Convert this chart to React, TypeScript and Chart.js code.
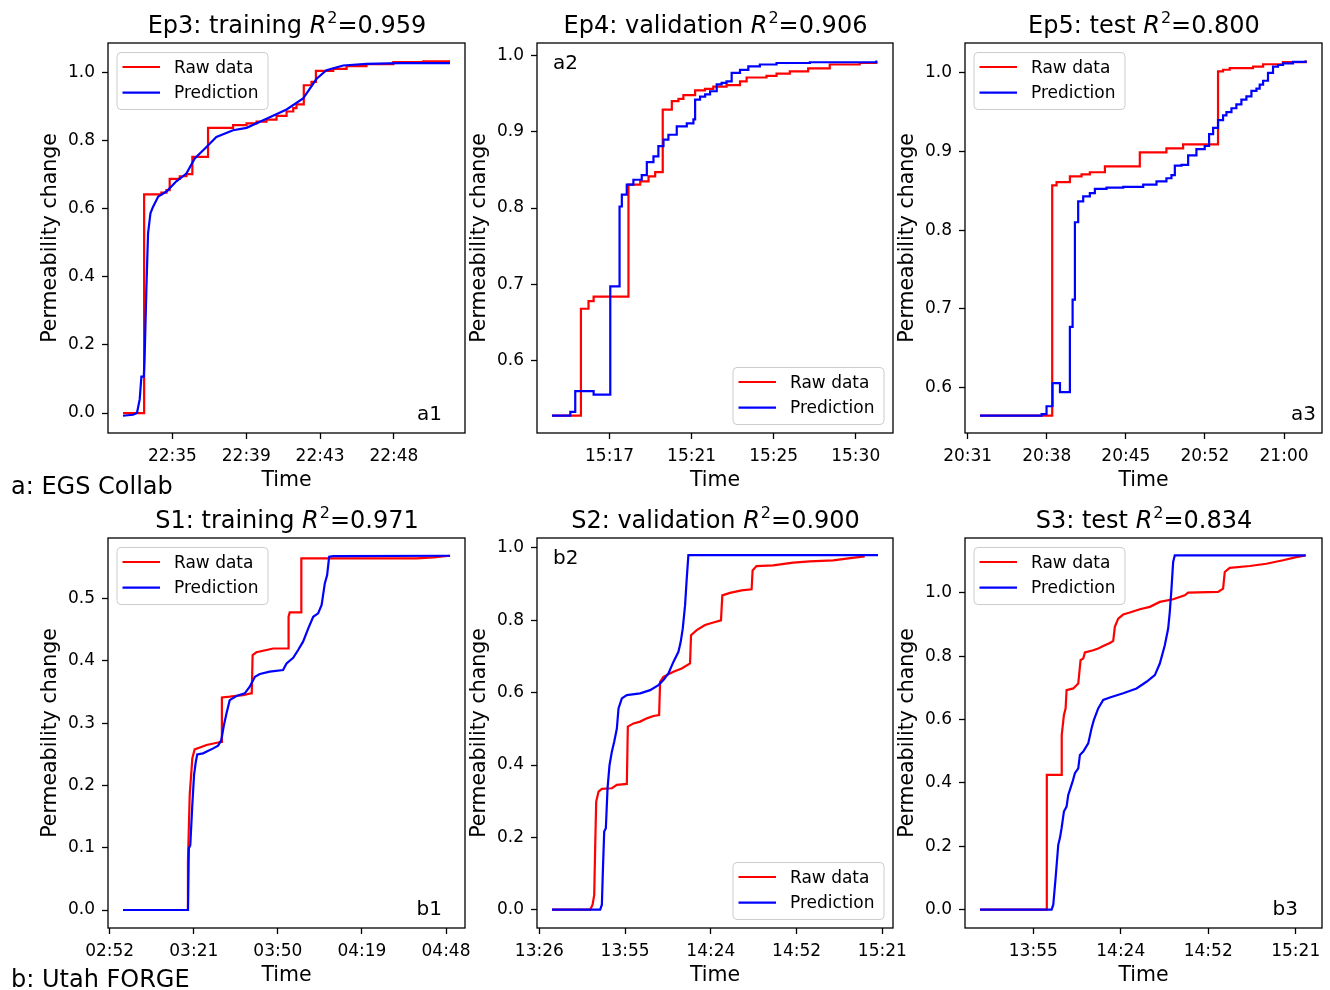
import React, { useEffect, useRef } from 'react';
import { Chart, registerables } from 'chart.js';

Chart.register(...registerables);

const FONT = '"DejaVu Sans", "Liberation Sans", sans-serif';
const W = 1330;
const H = 990;
const YW = 80; // y-axis box width
const XH = 60; // x-axis box height
const LW = 2.2; // line width

// ---------- Panel a1 (Ep3, minutes after 22:30) ----------
const a1RawX = [2.10, 3.34, 4.35, 4.65, 4.84, 5.43, 5.82, 6.17, 7.09, 8.56, 9.35, 9.94, 10.52, 11.11, 11.70, 12.09, 12.28, 12.71, 13.16, 13.42, 14.44, 15.22, 16.39, 17.96, 19.72, 21.29];
const a1RawY = [0, 0.642, 0.647, 0.654, 0.687, 0.695, 0.701, 0.752, 0.837, 0.845, 0.85, 0.855, 0.861, 0.872, 0.885, 0.895, 0.906, 0.962, 0.972, 1.004, 1.01, 1.018, 1.024, 1.03, 1.032, 1.032];
const a1PredX = [2.10, 2.69, 2.92, 3.08, 3.18, 3.32, 3.37, 3.47, 3.57, 3.71, 3.86, 4.16, 4.65, 5.23, 5.82, 6.31, 7.00, 7.58, 8.56, 9.35, 10.52, 11.70, 12.67, 13.46, 14.04, 15.02, 16.39, 18.35, 21.29];
const a1PredY = [-0.008, -0.005, 0.0, 0.04, 0.107, 0.107, 0.166, 0.36, 0.527, 0.586, 0.605, 0.635, 0.65, 0.68, 0.703, 0.747, 0.781, 0.81, 0.83, 0.837, 0.864, 0.891, 0.923, 0.981, 1.006, 1.02, 1.025, 1.027, 1.027];
const a1XTicks = [5, 9.333, 13.667, 18];
const a1XTickLabels = ['22:35', '22:39', '22:43', '22:48'];
const a1YTicks = [0, 0.2, 0.4, 0.6, 0.8, 1.0];

// ---------- Panel a2 (Ep4, minutes after 15:10) ----------
const a2RawX = [3.96, 5.49, 5.89, 6.16, 8.00, 8.62, 9.06, 9.41, 9.81, 10.29, 10.64, 10.90, 11.52, 12.04, 12.48, 13.18, 13.89, 14.24, 15.29, 15.82, 16.52, 17.49, 18.63, 20.21, 21.09];
const a2RawY = [0.528, 0.668, 0.678, 0.684, 0.8306, 0.835, 0.8415, 0.847, 0.929, 0.940, 0.943, 0.948, 0.954, 0.956, 0.959, 0.961, 0.966, 0.971, 0.973, 0.976, 0.979, 0.983, 0.988, 0.990, 0.992];
const a2PredX = [3.96, 4.93, 5.19, 6.16, 7.04, 7.53, 7.65, 7.91, 8.26, 8.70, 8.97, 9.32, 9.58, 9.85, 10.11, 10.55, 11.08, 11.43, 11.52, 11.78, 12.05, 12.31, 12.66, 12.92, 13.18, 13.45, 13.89, 14.33, 14.94, 15.82, 17.58, 21.09];
const a2PredY = [0.528, 0.533, 0.560, 0.5555, 0.6974, 0.802, 0.8175, 0.8306, 0.837, 0.843, 0.860, 0.8677, 0.881, 0.8895, 0.896, 0.907, 0.911, 0.916, 0.942, 0.946, 0.949, 0.953, 0.962, 0.964, 0.966, 0.977, 0.981, 0.9856, 0.988, 0.990, 0.991, 0.9934];
const a2XTicks = [7, 11.333, 15.667, 20];
const a2XTickLabels = ['15:17', '15:21', '15:25', '15:30'];
const a2YTicks = [0.6, 0.7, 0.8, 0.9, 1.0];

// ---------- Panel a3 (Ep5, minutes after 20:30) ----------
const a3RawX = [2.13, 8.75, 9.15, 10.37, 11.44, 12.20, 13.58, 16.78, 19.22, 20.75, 23.95, 24.41, 25.02, 27.16, 28.08, 29.90, 31.98];
const a3RawY = [0.564, 0.857, 0.861, 0.8685, 0.871, 0.8736, 0.881, 0.899, 0.904, 0.909, 1.002, 1.004, 1.006, 1.008, 1.011, 1.0136, 1.0157];
const a3PredX = [2.13, 7.78, 8.23, 8.78, 9.46, 10.37, 10.62, 10.83, 11.13, 11.59, 12.20, 12.66, 13.73, 15.26, 17.09, 18.31, 19.22, 19.68, 19.99, 20.60, 21.21, 21.97, 22.73, 23.13, 23.50, 23.95, 24.41, 24.72, 25.18, 25.63, 26.09, 26.55, 27.01, 27.47, 27.77, 28.08, 28.53, 28.99, 29.45, 29.91, 30.82, 31.98];
const a3PredY = [0.564, 0.566, 0.576, 0.6055, 0.594, 0.677, 0.7116, 0.81, 0.8367, 0.843, 0.847, 0.8524, 0.854, 0.855, 0.858, 0.862, 0.866, 0.87, 0.882, 0.883, 0.895, 0.903, 0.907, 0.922, 0.93, 0.94, 0.946, 0.95, 0.955, 0.96, 0.966, 0.97, 0.977, 0.98, 0.985, 0.99, 1.0, 1.008, 1.01, 1.012, 1.014, 1.0157];
const a3XTicks = [1, 8.25, 15.5, 22.75, 30];
const a3XTickLabels = ['20:31', '20:38', '20:45', '20:52', '21:00'];
const a3YTicks = [0.6, 0.7, 0.8, 0.9, 1.0];

// ---------- Panel b1 (S1, minutes after 02:50) ----------
const b1RawX = [6.6, 28.8, 29.0, 29.6, 30.5, 31.3, 33.1, 35.4, 39.4, 40.6, 40.7, 43.4, 48.0, 50.6, 51.0, 51.3, 52.6, 56.1, 58.4, 63.6, 63.7, 64.1, 68.0, 68.1, 107.9, 113.6, 119.4];
const b1RawY = [0, 0, 0.078, 0.185, 0.2436, 0.258, 0.261, 0.265, 0.269, 0.27, 0.3415, 0.3426, 0.345, 0.348, 0.348, 0.4095, 0.414, 0.4176, 0.42, 0.42, 0.471, 0.478, 0.478, 0.5648, 0.5648, 0.5664, 0.569];
const b1PredX = [6.6, 29.0, 29.3, 29.8, 30.5, 31.1, 31.7, 32.2, 34.2, 37.7, 39.4, 40.5, 41.4, 42.3, 43.4, 45.7, 48.6, 50.3, 52.1, 53.8, 57.2, 61.8, 63.0, 65.3, 67.0, 68.7, 70.5, 72.2, 73.9, 75.1, 76.2, 77.0, 77.7, 79.1, 119.4];
const b1PredY = [0, 0, 0.099, 0.104, 0.169, 0.217, 0.238, 0.25, 0.2516, 0.2596, 0.264, 0.273, 0.297, 0.316, 0.337, 0.3437, 0.348, 0.3587, 0.3747, 0.379, 0.3828, 0.3854, 0.396, 0.405, 0.4176, 0.431, 0.4523, 0.471, 0.4764, 0.49, 0.5246, 0.538, 0.5675, 0.5685, 0.569];
const b1XTicks = [2, 31, 60, 89, 118];
const b1XTickLabels = ['02:52', '03:21', '03:50', '04:19', '04:48'];
const b1YTicks = [0, 0.1, 0.2, 0.3, 0.4, 0.5];

// ---------- Panel b2 (S2, minutes after 13:20) ----------
const b2RawX = [10.74, 23.57, 24.35, 24.9, 25.24, 25.57, 26.35, 27.47, 30.82, 32.49, 35.84, 36.17, 38.07, 40.3, 42.53, 44.76, 46.66, 46.99, 48.1, 51.45, 54.24, 57.03, 57.36, 59.26, 62.05, 64.84, 67.4, 67.85, 70.42, 74.32, 77.67, 78.0, 79.3, 84.9, 91.6, 97.2, 105.0, 109.5, 115.6];
const b2RawY = [0, 0, 0.0138, 0.041, 0.179, 0.299, 0.3266, 0.334, 0.3358, 0.345, 0.3477, 0.506, 0.515, 0.52, 0.529, 0.5354, 0.538, 0.63, 0.644, 0.658, 0.667, 0.681, 0.759, 0.773, 0.787, 0.794, 0.80, 0.869, 0.876, 0.883, 0.886, 0.938, 0.95, 0.952, 0.9595, 0.963, 0.966, 0.9706, 0.977];
const b2PredX = [10.74, 26.91, 27.47, 27.8, 28.25, 28.8, 29.37, 30.04, 30.82, 31.6, 32.49, 33.05, 34.16, 35.84, 40.3, 43.64, 46.43, 48.1, 49.78, 51.45, 53.13, 53.9, 54.58, 55.36, 55.92, 56.47, 120.05];
const b2PredY = [0, 0, 0.0138, 0.106, 0.216, 0.225, 0.336, 0.40, 0.437, 0.4646, 0.501, 0.5566, 0.584, 0.5934, 0.598, 0.607, 0.621, 0.635, 0.653, 0.685, 0.713, 0.7406, 0.777, 0.842, 0.9154, 0.98, 0.98];
const b2XTicks = [6.5, 35.25, 64, 92.75, 121.5];
const b2XTickLabels = ['13:26', '13:55', '14:24', '14:52', '15:21'];
const b2YTicks = [0, 0.2, 0.4, 0.6, 0.8, 1.0];

// ---------- Panel b3 (S3, minutes after 13:20) ----------
const b3RawX = [17.74, 39.63, 39.7, 44.55, 44.6, 45.32, 45.87, 46.19, 48.38, 50.03, 50.79, 51.67, 52.21, 54.95, 56.59, 58.23, 60.42, 61.52, 62.06, 63.16, 64.8, 66.99, 70.27, 73.56, 76.84, 81.22, 85.05, 86.14, 95.99, 97.63, 98.18, 99.82, 106.4, 111.86, 117.33, 121.71, 124.78];
const b3RawY = [0, 0, 0.4254, 0.4254, 0.5515, 0.6145, 0.635, 0.693, 0.6985, 0.714, 0.788, 0.793, 0.812, 0.819, 0.8246, 0.832, 0.842, 0.8487, 0.893, 0.919, 0.9317, 0.938, 0.9485, 0.956, 0.9716, 0.98, 0.9926, 1.001, 1.003, 1.0136, 1.066, 1.0788, 1.085, 1.092, 1.103, 1.113, 1.1187];
const b3PredX = [17.74, 41.27, 41.82, 42.58, 43.46, 44.0, 44.55, 45.32, 46.19, 46.74, 47.29, 48.16, 48.93, 50.03, 50.57, 51.67, 53.31, 54.41, 55.17, 56.59, 58.23, 60.42, 64.8, 69.18, 72.46, 75.2, 76.84, 78.48, 79.58, 80.12, 80.67, 81.22, 81.76, 124.78];
const b3PredY = [0, 0, 0.0158, 0.0998, 0.2048, 0.226, 0.257, 0.31, 0.3256, 0.3624, 0.378, 0.404, 0.4307, 0.4464, 0.488, 0.499, 0.525, 0.5725, 0.599, 0.6355, 0.662, 0.670, 0.683, 0.6985, 0.7195, 0.7405, 0.777, 0.835, 0.8876, 0.94, 1.0137, 1.0977, 1.1187, 1.1187];
const b3XTicks = [35.25, 64, 92.75, 121.5];
const b3XTickLabels = ['13:55', '14:24', '14:52', '15:21'];
const b3YTicks = [0, 0.2, 0.4, 0.6, 0.8, 1.0];

type Panel = {
  id: string;
  area: { left: number; top: number; right: number; bottom: number };
  titlePrefix: string;
  r2: string;
  rawX: number[]; rawY: number[]; predX: number[]; predY: number[];
  rawStepped: boolean; predStepped: boolean;
  xMin: number; xMax: number; yMin: number; yMax: number;
  xTicks: number[]; xTickLabels: string[]; yTicks: number[];
  legend: 'tl' | 'br';
  tag: { text: string; corner: 'tl' | 'br'; dx: number; dy: number };
  group?: { text: string; y: number };
};

const panels: Panel[] = [
  {
    id: 'a1', area: { left: 108, top: 43, right: 465, bottom: 433 },
    titlePrefix: 'Ep3: training ', r2: '0.959',
    rawX: a1RawX, rawY: a1RawY, predX: a1PredX, predY: a1PredY, rawStepped: true, predStepped: false,
    xMin: 1.22, xMax: 22.17, yMin: -0.0586, yMax: 1.086,
    xTicks: a1XTicks, xTickLabels: a1XTickLabels, yTicks: a1YTicks,
    legend: 'tl', tag: { text: 'a1', corner: 'br', dx: 23, dy: 13 },
    group: { text: 'a: EGS Collab', y: 494 },
  },
  {
    id: 'a2', area: { left: 537, top: 43, right: 893, bottom: 433 },
    titlePrefix: 'Ep4: validation ', r2: '0.906',
    rawX: a2RawX, rawY: a2RawY, predX: a2PredX, predY: a2PredY, rawStepped: true, predStepped: true,
    xMin: 3.17, xMax: 21.97, yMin: 0.5052, yMax: 1.0162,
    xTicks: a2XTicks, xTickLabels: a2XTickLabels, yTicks: a2YTicks,
    legend: 'br', tag: { text: 'a2', corner: 'tl', dx: 16, dy: 26 },
  },
  {
    id: 'a3', area: { left: 965, top: 43, right: 1322, bottom: 433 },
    titlePrefix: 'Ep5: test ', r2: '0.800',
    rawX: a3RawX, rawY: a3RawY, predX: a3PredX, predY: a3PredY, rawStepped: true, predStepped: true,
    xMin: 0.756, xMax: 33.48, yMin: 0.542, yMax: 1.038,
    xTicks: a3XTicks, xTickLabels: a3XTickLabels, yTicks: a3YTicks,
    legend: 'tl', tag: { text: 'a3', corner: 'br', dx: 6, dy: 13 },
  },
  {
    id: 'b1', area: { left: 108, top: 538, right: 465, bottom: 928 },
    titlePrefix: 'S1: training ', r2: '0.971',
    rawX: b1RawX, rawY: b1RawY, predX: b1PredX, predY: b1PredY, rawStepped: false, predStepped: false,
    xMin: 1.42, xMax: 124.55, yMin: -0.0289, yMax: 0.5975,
    xTicks: b1XTicks, xTickLabels: b1XTickLabels, yTicks: b1YTicks,
    legend: 'tl', tag: { text: 'b1', corner: 'br', dx: 23, dy: 13 },
    group: { text: 'b: Utah FORGE', y: 987 },
  },
  {
    id: 'b2', area: { left: 537, top: 538, right: 893, bottom: 928 },
    titlePrefix: 'S2: validation ', r2: '0.900',
    rawX: b2RawX, rawY: b2RawY, predX: b2PredX, predY: b2PredY, rawStepped: false, predStepped: false,
    xMin: 5.72, xMax: 125.07, yMin: -0.0506, yMax: 1.0276,
    xTicks: b2XTicks, xTickLabels: b2XTickLabels, yTicks: b2YTicks,
    legend: 'br', tag: { text: 'b2', corner: 'tl', dx: 16, dy: 26 },
  },
  {
    id: 'b3', area: { left: 965, top: 538, right: 1322, bottom: 928 },
    titlePrefix: 'S3: test ', r2: '0.834',
    rawX: b3RawX, rawY: b3RawY, predX: b3PredX, predY: b3PredY, rawStepped: false, predStepped: false,
    xMin: 12.81, xMax: 130.14, yMin: -0.0578, yMax: 1.1733,
    xTicks: b3XTicks, xTickLabels: b3XTickLabels, yTicks: b3YTicks,
    legend: 'tl', tag: { text: 'b3', corner: 'br', dx: 24, dy: 13 },
  },
];

const decorPlugin = {
  id: 'decor',
  afterDraw(chart: any, _args: any, opts: any) {
    const p: Panel = opts.panel;
    if (!p) return;
    const ctx: CanvasRenderingContext2D = chart.ctx;
    const a = chart.chartArea;
    ctx.save();

    // frame (all four spines)
    ctx.strokeStyle = '#000';
    ctx.lineWidth = 1.3;
    ctx.strokeRect(a.left, a.top, a.right - a.left, a.bottom - a.top);

    // title with italic R and superscript 2
    const size = 24;
    const parts: [string, string, number][] = [
      [p.titlePrefix, `${size}px ${FONT}`, 0],
      ['R', `italic ${size}px ${FONT}`, 0],
      ['2', `16px ${FONT}`, -10],
      ['=' + p.r2, `${size}px ${FONT}`, 0],
    ];
    let total = 0;
    const widths = parts.map(([t, f]) => {
      ctx.font = f;
      const w = ctx.measureText(t).width;
      total += w;
      return w;
    });
    let x = (a.left + a.right) / 2 - total / 2;
    const ty = a.top - 10;
    ctx.fillStyle = '#000';
    ctx.textAlign = 'left';
    ctx.textBaseline = 'alphabetic';
    parts.forEach(([t, f, dy], i) => {
      ctx.font = f;
      ctx.fillText(t, x, ty + dy);
      x += widths[i] + (i === 1 ? 1 : 0);
    });

    // panel tag
    ctx.font = `20px ${FONT}`;
    if (p.tag.corner === 'br') {
      ctx.textAlign = 'right';
      ctx.fillText(p.tag.text, a.right - p.tag.dx, a.bottom - p.tag.dy);
    } else {
      ctx.textAlign = 'left';
      ctx.fillText(p.tag.text, a.left + p.tag.dx, a.top + p.tag.dy);
    }

    // legend box
    const bw = 151;
    const bh = 57;
    const bx = p.legend === 'tl' ? a.left + 9 : a.right - 9 - bw;
    const by = p.legend === 'tl' ? a.top + 9.5 : a.bottom - 8.5 - bh;
    ctx.beginPath();
    const r = 4;
    ctx.moveTo(bx + r, by);
    ctx.lineTo(bx + bw - r, by);
    ctx.arcTo(bx + bw, by, bx + bw, by + r, r);
    ctx.lineTo(bx + bw, by + bh - r);
    ctx.arcTo(bx + bw, by + bh, bx + bw - r, by + bh, r);
    ctx.lineTo(bx + r, by + bh);
    ctx.arcTo(bx, by + bh, bx, by + bh - r, r);
    ctx.lineTo(bx, by + r);
    ctx.arcTo(bx, by, bx + r, by, r);
    ctx.closePath();
    ctx.fillStyle = 'rgba(255,255,255,0.8)';
    ctx.fill();
    ctx.strokeStyle = '#cccccc';
    ctx.lineWidth = 1;
    ctx.stroke();

    const entries: [string, string][] = [['Raw data', '#ff0000'], ['Prediction', '#0000ff']];
    entries.forEach(([label, color], i) => {
      const ly = by + 14.5 + i * 25.6;
      ctx.beginPath();
      ctx.moveTo(bx + 5.5, ly);
      ctx.lineTo(bx + 43, ly);
      ctx.strokeStyle = color;
      ctx.lineWidth = LW;
      ctx.stroke();
      ctx.fillStyle = '#000';
      ctx.font = `17px ${FONT}`;
      ctx.textAlign = 'left';
      ctx.textBaseline = 'alphabetic';
      ctx.fillText(label, bx + 57, ly + 5.8);
    });

    // group label
    if (p.group) {
      ctx.fillStyle = '#000';
      ctx.font = `24px ${FONT}`;
      ctx.textAlign = 'left';
      ctx.textBaseline = 'alphabetic';
      ctx.fillText(p.group.text, 11, p.group.y);
    }

    ctx.restore();
  },
};

function makeConfig(p: Panel): any {
  const a = p.area;
  const tickFont = { family: FONT, size: 17 };
  const titleFont = { family: FONT, size: 20.5, lineHeight: 1.2 };
  const grid = { display: true, drawOnChartArea: false, drawTicks: true, tickLength: 6, tickColor: '#000', tickWidth: 1.3 };
  return {
    type: 'line',
    data: {
      datasets: [
        {
          label: 'Raw data',
          data: p.rawX.map((x, i) => ({ x, y: p.rawY[i] })),
          borderColor: '#ff0000',
          backgroundColor: '#ff0000',
          borderWidth: LW,
          pointRadius: 0,
          tension: 0,
          fill: false,
          stepped: p.rawStepped ? 'before' : false,
          order: 2,
        },
        {
          label: 'Prediction',
          data: p.predX.map((x, i) => ({ x, y: p.predY[i] })),
          borderColor: '#0000ff',
          backgroundColor: '#0000ff',
          borderWidth: LW,
          pointRadius: 0,
          tension: 0,
          fill: false,
          stepped: p.predStepped ? 'before' : false,
          order: 1,
        },
      ],
    },
    options: {
      animation: false,
      responsive: false,
      events: [],
      layout: {
        padding: {
          left: a.left - YW,
          top: a.top,
          right: W - a.right,
          bottom: H - a.bottom - XH,
        },
      },
      plugins: {
        legend: { display: false },
        tooltip: { enabled: false },
        title: { display: false },
        decor: { panel: p },
      },
      scales: {
        x: {
          type: 'linear',
          position: 'bottom',
          min: p.xMin,
          max: p.xMax,
          afterFit: (s: any) => { s.height = XH; },
          afterBuildTicks: (s: any) => { s.ticks = p.xTicks.map((v) => ({ value: v })); },
          ticks: {
            autoSkip: false,
            maxRotation: 0,
            minRotation: 0,
            padding: 7,
            color: '#000',
            font: tickFont,
            callback: (_v: any, i: number) => p.xTickLabels[i],
          },
          grid,
          border: { display: false },
          title: { display: true, text: 'Time', color: '#000', font: titleFont, padding: { top: 0, bottom: 0 } },
        },
        y: {
          type: 'linear',
          position: 'left',
          min: p.yMin,
          max: p.yMax,
          afterFit: (s: any) => { s.width = YW; },
          afterBuildTicks: (s: any) => { s.ticks = p.yTicks.map((v) => ({ value: v })); },
          ticks: {
            autoSkip: false,
            padding: 7,
            color: '#000',
            font: tickFont,
            callback: (v: any) => Number(v).toFixed(1),
          },
          grid,
          border: { display: false },
          title: { display: true, text: 'Permeability change', color: '#000', font: titleFont, padding: { top: 10, bottom: 0 } },
        },
      },
    },
    plugins: [decorPlugin],
  };
}

function PanelChart({ p }: { p: Panel }) {
  const ref = useRef<HTMLCanvasElement>(null);
  useEffect(() => {
    if (!ref.current) return;
    const chart = new Chart(ref.current, makeConfig(p));
    return () => chart.destroy();
  }, [p]);
  return (
    <canvas
      ref={ref}
      width={W}
      height={H}
      style={{ position: 'absolute', left: 0, top: 0, width: W, height: H }}
    />
  );
}

export default function App() {
  return (
    <div style={{ position: 'fixed', left: 0, top: 0, width: W, height: H, background: '#fff', overflow: 'hidden' }}>
      {panels.map((p) => (
        <PanelChart key={p.id} p={p} />
      ))}
    </div>
  );
}
